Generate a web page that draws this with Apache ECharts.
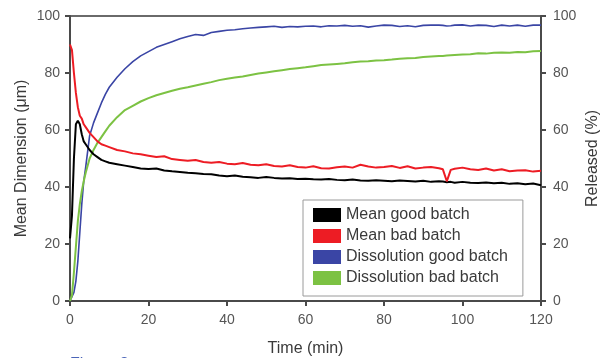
<!DOCTYPE html>
<html>
<head>
<meta charset="utf-8">
<script src="https://cdn.jsdelivr.net/npm/echarts@6/dist/echarts.min.js"></script>
<style>
html,body{margin:0;padding:0;background:#fff;}
#chart{width:600px;height:358px;}
</style>
</head>
<body>
<div id="chart"></div>
<script>
// Time (min)
var times = [0,0.5,1,1.5,2,2.5,3,3.5,4,5,6,7,8,9,10,12,14,16,18,20,22,24,26,28,30,32,34,36,38,40,42,44,46,48,50,52,54,56,58,60,62,64,66,68,70,72,74,76,78,80,82,84,86,88,90,92,94,95,96,97,98,100,102,104,106,108,110,112,114,116,118,120];

// Mean dimension (µm)
var meanGood = [22,30,50,62,63.3,62,58.5,56,55,53,51.5,50.5,49.5,49,48.5,48,47.5,47,46.5,46.3,46.5,45.8,45.5,45.3,45,44.8,44.6,44.5,44,43.8,44,43.6,43.4,43.2,43.5,43.2,43,43.1,42.8,42.9,42.7,42.6,42.8,42.5,42.4,42.6,42.3,42.2,42.4,42.2,42,42.3,42.1,41.9,42.2,41.8,42,41.9,41.7,41.8,41.5,41.8,41.5,41.4,41.6,41.3,41.5,41.1,41.3,41,41.2,40.6];
var meanBad = [90,88,80,73,68,65,64,62,61,59,57.5,56,55,54.5,54,53,52.5,51.8,51.5,51,50.5,50.8,49.8,49.5,49.2,49.5,48.8,48.5,48.8,48.2,48,48.4,47.8,47.6,48,47.4,47.2,47.6,47,46.8,47.3,46.6,46.5,46.9,47.2,46.8,47.8,47.2,46.8,47,47.4,46.7,47.3,46.5,46.8,47,46.6,46.2,42,46,46.4,46.8,46.2,46,46.5,45.8,46.2,45.5,45.8,45.9,45.4,45.7];

// Released (%)
var dissGood = [0,0.5,3,7,14,24,34,42,47,58,62.5,66,69.5,72.5,75,78.5,81.5,84,86,87.5,89,90,91,92,92.8,93.5,93.2,94.2,94.6,95,95.2,95.5,95.8,96,96.2,96.4,96,96.3,96.2,96.4,96.5,96.2,96.6,96.5,96.7,96.4,96.6,96.1,96.5,96.8,96.7,96.3,96.6,96.2,96.7,96.8,96.8,96.7,96.5,96.6,96.8,96.9,96.5,96.8,96.7,96.3,96.8,96.5,96.8,96.4,96.8,96.8];
var dissBad = [0,2,10,19,28,34,38.5,42,45,50,53,55.5,57.5,59.5,61.5,64.5,67,68.5,70,71.2,72.2,73,73.8,74.5,75,75.6,76.2,76.8,77.5,78,78.4,78.8,79.3,79.8,80.2,80.6,81,81.4,81.7,82,82.4,82.8,83,83.2,83.4,83.8,84,84.1,84.4,84.5,84.7,85,85.2,85.3,85.6,85.8,86,86,86.1,86.2,86.3,86.5,86.6,86.9,86.8,87.1,87.2,87.1,87.4,87.3,87.6,87.7];

var seriesNames = ['Mean good batch','Mean bad batch','Dissolution good batch','Dissolution bad batch'];
var seriesColors = ['#000000','#ed1c24','#3a45a5','#7cc243'];
var yTicks = [0,20,40,60,80,100];
var xTicks = [0,20,40,60,80,100,120];

function pairs(vals){ return times.map(function(t,i){ return [t, vals[i]]; }); }

var FONT = 'Liberation Sans';
var axisLineStyle = {color:'#4a4a4a', width:2};
var chart = echarts.init(document.getElementById('chart'), null, {renderer:'canvas'});
chart.setOption({
  animation:false,
  backgroundColor:'#ffffff',
  textStyle:{fontFamily:FONT},
  grid:{left:70, right:59, top:16, bottom:57, outerBoundsMode:'none', containLabel:false, show:true, borderColor:'#6a6a6a', borderWidth:2, backgroundColor:'transparent'},
  legend:{
    left:303, top:200, orient:'vertical', icon:'rect', itemWidth:28, itemHeight:14, itemGap:5,
    padding:[7,15,10,10], backgroundColor:'#ffffff', borderColor:'#9a9a9a', borderWidth:1,
    textStyle:{fontFamily:FONT, fontSize:16, lineHeight:14, color:'#3a3a3a'},
    data:seriesNames
  },
  xAxis:{
    type:'value', min:xTicks[0], max:xTicks[xTicks.length-1], interval:20,
    name:'Time (min)', nameLocation:'middle', nameGap:40, nameMoveOverlap:false,
    nameTextStyle:{fontFamily:FONT, fontSize:16, color:'#3a3a3a'},
    axisLine:{show:true, lineStyle:axisLineStyle},
    axisTick:{show:true, inside:false, length:5, lineStyle:axisLineStyle},
    axisLabel:{fontFamily:FONT, fontSize:14, color:'#555', margin:12},
    splitLine:{show:false}
  },
  yAxis:[{
    type:'value', min:yTicks[0], max:yTicks[yTicks.length-1], interval:20, position:'left',
    name:'Mean Dimension (μm)', nameLocation:'middle', nameGap:40, nameRotate:90, nameMoveOverlap:false,
    nameTextStyle:{fontFamily:FONT, fontSize:16, color:'#3a3a3a'},
    axisLine:{show:true, lineStyle:axisLineStyle},
    axisTick:{show:true, inside:false, length:5, lineStyle:axisLineStyle},
    axisLabel:{fontFamily:FONT, fontSize:14, color:'#555', margin:10},
    splitLine:{show:false}
  },{
    type:'value', min:yTicks[0], max:yTicks[yTicks.length-1], interval:20, position:'right',
    name:'Released (%)', nameLocation:'middle', nameGap:44, nameRotate:90, nameMoveOverlap:false,
    nameTextStyle:{fontFamily:FONT, fontSize:16, color:'#3a3a3a'},
    axisLine:{show:true, lineStyle:axisLineStyle},
    axisTick:{show:true, inside:false, length:5, lineStyle:axisLineStyle},
    axisLabel:{fontFamily:FONT, fontSize:14, color:'#555', margin:12},
    splitLine:{show:false}
  }],
  graphic:[{
    type:'text', x:70, y:357,
    style:{text:'Figure 2', fontFamily:FONT, fontSize:16, fill:'#4a64b8', verticalAlign:'top', textVerticalAlign:'top'}
  }],
  series:[
    {name:seriesNames[0], type:'line', yAxisIndex:0, data:pairs(meanGood), showSymbol:false, symbol:'none', color:seriesColors[0], lineStyle:{width:2, color:seriesColors[0]}, z:3},
    {name:seriesNames[1], type:'line', yAxisIndex:0, data:pairs(meanBad), showSymbol:false, symbol:'none', color:seriesColors[1], lineStyle:{width:2, color:seriesColors[1]}, z:4},
    {name:seriesNames[2], type:'line', yAxisIndex:1, data:pairs(dissGood), showSymbol:false, symbol:'none', color:seriesColors[2], lineStyle:{width:1.6, color:seriesColors[2]}, z:2},
    {name:seriesNames[3], type:'line', yAxisIndex:1, data:pairs(dissBad), showSymbol:false, symbol:'none', color:seriesColors[3], lineStyle:{width:2, color:seriesColors[3]}, z:2}
  ]
});
</script>
</body>
</html>
